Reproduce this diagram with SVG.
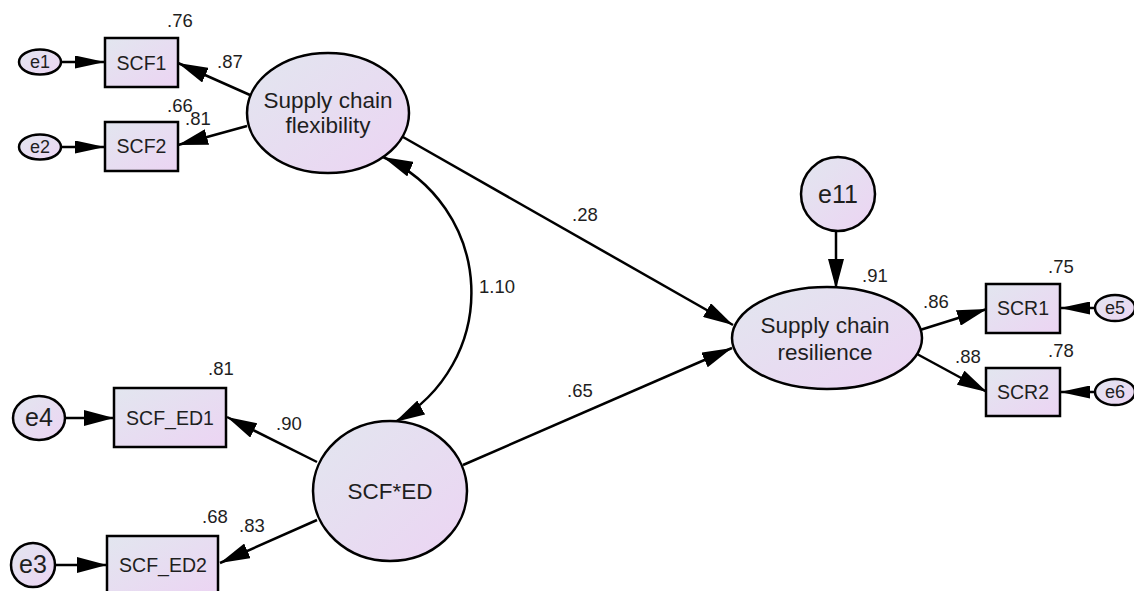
<svg xmlns="http://www.w3.org/2000/svg" width="1134" height="591" viewBox="0 0 1134 591">
<defs>
<linearGradient id="g" x1="0" y1="0" x2="1" y2="1">
<stop offset="0" stop-color="#e2e6ef"/>
<stop offset="1" stop-color="#ecd4f3"/>
</linearGradient>
<marker id="ah" viewBox="0 0 30 16" refX="30" refY="8" markerWidth="30" markerHeight="16" markerUnits="userSpaceOnUse" orient="auto"><path d="M0,0 L30,8 L0,16 z" fill="#000"/></marker>
<marker id="ahs" viewBox="0 0 30 16" refX="30" refY="8" markerWidth="30" markerHeight="16" markerUnits="userSpaceOnUse" orient="auto-start-reverse"><path d="M0,0 L30,8 L0,16 z" fill="#000"/></marker>
<marker id="as" viewBox="0 0 30 13" refX="30" refY="6.5" markerWidth="30" markerHeight="13" markerUnits="userSpaceOnUse" orient="auto"><path d="M0,0 L30,6.5 L0,13 z" fill="#000"/></marker>
</defs>
<style>
.n{fill:url(#g);stroke:#000;stroke-width:2.5}
.c{stroke:#000;stroke-width:2.5;fill:none}
text{font-family:"Liberation Sans",Arial,sans-serif;fill:#1e1e1e}
.big{font-size:22.5px;text-anchor:middle}
.box{font-size:19.5px;text-anchor:middle}
.es{font-size:18px;text-anchor:middle}
.el{font-size:25px;text-anchor:middle}
.v{font-size:18.5px}
</style>
<rect width="1134" height="591" fill="#fff"/>
<g id="connectors">
<line class="c" x1="62" y1="62" x2="105" y2="62" marker-end="url(#as)"/>
<line class="c" x1="62" y1="147" x2="105" y2="147" marker-end="url(#as)"/>
<line class="c" x1="250" y1="95" x2="178" y2="63" marker-end="url(#ah)"/>
<line class="c" x1="247" y1="126" x2="178" y2="145" marker-end="url(#ah)"/>
<line class="c" x1="403" y1="137" x2="733" y2="325" marker-end="url(#ah)"/>
<line class="c" x1="463" y1="465" x2="732" y2="348" marker-end="url(#ah)"/>
<path class="c" d="M383,157 A148,148 0 0 1 395,422" marker-start="url(#ahs)" marker-end="url(#ahs)"/>
<line class="c" x1="65" y1="418" x2="114" y2="418" marker-end="url(#ah)"/>
<line class="c" x1="55" y1="565" x2="107" y2="565" marker-end="url(#ah)"/>
<line class="c" x1="317" y1="462" x2="227" y2="417" marker-end="url(#ah)"/>
<line class="c" x1="317" y1="520" x2="220" y2="563" marker-end="url(#ah)"/>
<line class="c" x1="836" y1="232" x2="836" y2="289" marker-end="url(#ah)"/>
<line class="c" x1="920" y1="330" x2="987" y2="309" marker-end="url(#ah)"/>
<line class="c" x1="917" y1="354" x2="987" y2="392" marker-end="url(#ah)"/>
<line class="c" x1="1095" y1="308" x2="1060" y2="308" marker-end="url(#as)"/>
<line class="c" x1="1095" y1="392" x2="1060" y2="392" marker-end="url(#as)"/>
</g>
<g id="e1"><ellipse class="n" cx="40" cy="62" rx="21" ry="12.5"/><text class="es" x="40" y="68">e1</text></g>
<g id="e2"><ellipse class="n" cx="40" cy="147" rx="21" ry="12.5"/><text class="es" x="40" y="153">e2</text></g>
<g id="SCF1"><rect class="n" x="105" y="38" width="73" height="49"/><text class="box" x="141.5" y="70">SCF1</text></g>
<g id="SCF2"><rect class="n" x="105" y="122" width="73" height="49"/><text class="box" x="141.5" y="153">SCF2</text></g>
<g id="SCFlex"><ellipse class="n" cx="328" cy="113" rx="81" ry="60"/><text class="big" x="328" y="108">Supply chain</text><text class="big" x="328" y="133">flexibility</text></g>
<g id="e4"><ellipse class="n" cx="39" cy="418" rx="26" ry="22"/><text class="el" x="39" y="426">e4</text></g>
<g id="e3"><ellipse class="n" cx="33" cy="565" rx="22" ry="22"/><text class="el" x="33" y="573">e3</text></g>
<g id="SCF_ED1"><rect class="n" x="114" y="388" width="112" height="59"/><text class="box" x="170" y="425">SCF_ED1</text></g>
<g id="SCF_ED2"><rect class="n" x="107" y="536" width="111" height="60"/><text class="box" x="163" y="572">SCF_ED2</text></g>
<g id="SCFED"><ellipse class="n" cx="390" cy="491" rx="77" ry="70"/><text class="big" x="390" y="499">SCF*ED</text></g>
<g id="e11"><circle class="n" cx="838" cy="194" r="37"/><text class="el" x="838" y="203">e11</text></g>
<g id="SCRes"><ellipse class="n" cx="827" cy="338" rx="95" ry="51"/><text class="big" x="825" y="333">Supply chain</text><text class="big" x="825" y="360">resilience</text></g>
<g id="SCR1"><rect class="n" x="986" y="284" width="74" height="49"/><text class="box" x="1023" y="315">SCR1</text></g>
<g id="SCR2"><rect class="n" x="986" y="368" width="74" height="48"/><text class="box" x="1023" y="399">SCR2</text></g>
<g id="e5"><ellipse class="n" cx="1115" cy="308" rx="20" ry="13"/><text class="es" x="1115" y="314">e5</text></g>
<g id="e6"><ellipse class="n" cx="1115" cy="392" rx="20" ry="13"/><text class="es" x="1115" y="398">e6</text></g>
<g id="labels">
<text class="v" x="167" y="27">.76</text>
<text class="v" x="217" y="68">.87</text>
<text class="v" x="167" y="112">.66</text>
<text class="v" x="185" y="125">.81</text>
<text class="v" x="572" y="221">.28</text>
<text class="v" x="479" y="293">1.10</text>
<text class="v" x="567" y="397">.65</text>
<text class="v" x="208" y="375">.81</text>
<text class="v" x="276" y="430">.90</text>
<text class="v" x="202" y="523">.68</text>
<text class="v" x="239" y="532">.83</text>
<text class="v" x="862" y="282">.91</text>
<text class="v" x="923" y="308">.86</text>
<text class="v" x="955" y="363">.88</text>
<text class="v" x="1048" y="273">.75</text>
<text class="v" x="1048" y="357">.78</text>
</g>
</svg>
